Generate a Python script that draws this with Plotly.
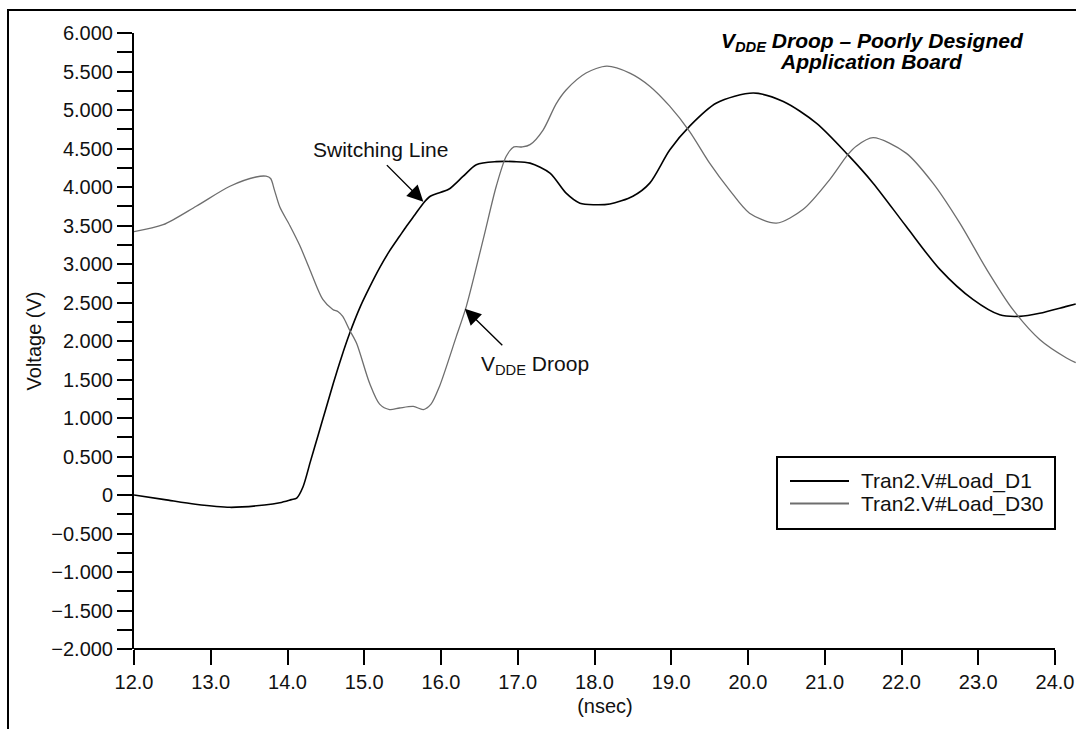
import plotly.graph_objects as go

# Tran2.V#Load_D1 (switching line), time in ns, volts
t_d1 = [12.0, 12.4, 12.8, 13.25, 13.7, 13.9, 14.05, 14.12, 14.2, 14.3, 14.4, 14.5,
        14.6, 14.7, 14.81, 14.95, 15.07, 15.2, 15.33, 15.46, 15.55, 15.66, 15.77,
        15.86, 15.93, 16.1, 16.29, 16.46, 16.72, 16.95, 17.16, 17.42, 17.63, 17.81,
        18.0, 18.2, 18.5, 18.72, 18.98, 19.24, 19.59, 20.07, 20.46, 20.89,
        21.3, 21.63, 22.06, 22.5, 22.93, 23.28, 23.54, 23.8, 24.15, 24.27]
v_d1 = [0.0, -0.06, -0.12, -0.16, -0.13, -0.10, -0.06, -0.04, 0.10, 0.44, 0.78, 1.12,
        1.46, 1.78, 2.10, 2.45, 2.70, 2.95, 3.17, 3.36, 3.49, 3.64, 3.79,
        3.88, 3.91, 3.97, 4.14, 4.29, 4.33, 4.33, 4.31, 4.18, 3.92, 3.79,
        3.77, 3.78, 3.88, 4.05, 4.48, 4.79, 5.09, 5.22, 5.11, 4.83,
        4.42, 4.05, 3.49, 2.93, 2.54, 2.34, 2.32, 2.36, 2.45, 2.48]

# Tran2.V#Load_D30 (VDDE droop)
t_d30 = [12.0, 12.38, 12.81, 13.25, 13.59, 13.72, 13.78, 13.83, 13.9, 14.03, 14.16,
         14.29, 14.46, 14.59, 14.66, 14.72, 14.81, 14.9, 15.07, 15.2, 15.33, 15.46,
         15.64, 15.77, 15.87, 15.98, 16.2, 16.33, 16.55, 16.72, 16.85, 16.95, 17.06,
         17.16, 17.33, 17.5, 17.63, 17.89, 18.16, 18.46, 18.72, 18.98, 19.24, 19.5,
         19.76, 20.02, 20.37, 20.72, 21.06, 21.3, 21.41, 21.63, 22.06, 22.41, 22.76,
         23.11, 23.45, 23.8, 24.15, 24.27]
v_d30 = [3.42, 3.51, 3.75, 4.01, 4.13, 4.14, 4.11, 3.96, 3.74, 3.50, 3.24,
         2.93, 2.54, 2.41, 2.38, 2.32, 2.14, 1.97, 1.45, 1.18, 1.11, 1.13,
         1.15, 1.11, 1.18, 1.41, 2.06, 2.45, 3.32, 4.01, 4.40, 4.52, 4.52,
         4.55, 4.74, 5.08, 5.26, 5.48, 5.57, 5.48, 5.31, 5.05, 4.72, 4.31,
         3.96, 3.66, 3.53, 3.71, 4.09, 4.42, 4.53, 4.64, 4.44, 4.05, 3.53,
         2.93, 2.41, 2.02, 1.78, 1.72]

series_names = ["Tran2.V#Load_D1", "Tran2.V#Load_D30"]
series_colors = ["#000000", "#6e6e6e"]
series_widths = [1.6, 1.3]

y_ticks = [-2.0, -1.5, -1.0, -0.5, 0.0, 0.5, 1.0, 1.5, 2.0, 2.5, 3.0, 3.5, 4.0, 4.5, 5.0, 5.5, 6.0]
y_labels = ["\u22122.000", "\u22121.500", "\u22121.000", "\u22120.500", "0", "0.500", "1.000",
            "1.500", "2.000", "2.500", "3.000", "3.500", "4.000", "4.500", "5.000", "5.500", "6.000"]
x_ticks = [12, 13, 14, 15, 16, 17, 18, 19, 20, 21, 22, 23, 24]
x_labels = [f"{t:.1f}" for t in x_ticks]

W, H = 1076, 729
ML, MR, MT, MB = 134, 0, 33, 80
PW, PH = W - ML - MR, H - MT - MB
FONT = "Liberation Sans, Arial, sans-serif"


def px(x):
    return (x - ML) / PW


def py(y):
    return (H - MB - y) / PH


fig = go.Figure()
for t, v, name, col, lw in zip([t_d1, t_d30], [v_d1, v_d30], series_names, series_colors, series_widths):
    fig.add_trace(go.Scatter(
        x=t, y=v, mode="lines", name=name, showlegend=False,
        line=dict(color=col, width=lw, shape="spline", smoothing=0.8),
    ))

shapes = [
    # outer frame: top and left
    dict(type="line", xref="paper", yref="paper", x0=px(7), x1=px(W), y0=py(10), y1=py(10),
         line=dict(color="black", width=2)),
    dict(type="line", xref="paper", yref="paper", x0=px(8), x1=px(8), y0=py(9), y1=py(H),
         line=dict(color="black", width=2)),
    # x axis line, stops at 24.0
    dict(type="line", xref="x", yref="paper", x0=12, x1=24, y0=0, y1=0,
         line=dict(color="black", width=2)),
    # legend box
    dict(type="rect", xref="paper", yref="paper", x0=px(777), x1=px(1055), y0=py(457), y1=py(529),
         line=dict(color="black", width=2), fillcolor="white"),
]
annotations = []
for i, (name, col) in enumerate(zip(series_names, series_colors)):
    yy = 481 + i * 22.5
    shapes.append(dict(type="line", xref="paper", yref="paper", x0=px(790), x1=px(849),
                       y0=py(yy), y1=py(yy), line=dict(color=col, width=2)))
    annotations.append(dict(xref="paper", yref="paper", x=px(859), y=py(yy), text=name,
                            showarrow=False, xanchor="left", yanchor="middle",
                            font=dict(size=21, color="#111")))

annotations += [
    dict(xref="paper", yref="paper", x=px(1026), y=py(42),
         text="<b><i>V<sub>DDE</sub> Droop \u2013 Poorly Designed</i></b>",
         showarrow=False, xanchor="right", yanchor="middle", font=dict(size=21, color="black")),
    dict(xref="paper", yref="paper", x=px(778), y=py(62),
         text="<b><i>Application Board</i></b>",
         showarrow=False, xanchor="left", yanchor="middle", font=dict(size=21, color="black")),
    # arrows
    dict(x=15.77, y=3.81, ax=-38, ay=-38, text="", showarrow=True, arrowhead=2,
         arrowsize=2.3, arrowwidth=1.4, arrowcolor="black"),
    dict(x=16.31, y=2.42, ax=39, ay=38, text="", showarrow=True, arrowhead=2,
         arrowsize=2.3, arrowwidth=1.4, arrowcolor="black"),
    dict(xref="paper", yref="paper", x=px(450), y=py(149), text="Switching Line",
         showarrow=False, xanchor="right", yanchor="middle", font=dict(size=21, color="#111")),
    dict(xref="paper", yref="paper", x=px(479), y=py(365), text="V<sub>DDE</sub> Droop",
         showarrow=False, xanchor="left", yanchor="middle", font=dict(size=21, color="#111")),
]

fig.update_layout(
    width=W, height=H,
    margin=dict(l=ML, r=MR, t=MT, b=MB, pad=0),
    paper_bgcolor="white", plot_bgcolor="white",
    font=dict(family=FONT, size=20, color="#111"),
    shapes=shapes, annotations=annotations,
    showlegend=False,
    xaxis=dict(
        range=[12, 12 + PW / 76.75], tickmode="array", tickvals=x_ticks, ticktext=x_labels,
        ticks="outside", ticklen=15, tickwidth=2, tickcolor="black",
        showline=False, showgrid=False, zeroline=False,
        title=dict(text="(nsec)", standoff=6, font=dict(size=20)),
    ),
    yaxis=dict(
        range=[-2, 6], tickmode="array", tickvals=y_ticks, ticktext=y_labels,
        ticks="outside", ticklen=15, tickwidth=2, tickcolor="black",
        minor=dict(tickmode="linear", tick0=-2, dtick=0.25, ticks="outside",
                   ticklen=15, tickwidth=2, tickcolor="black"),
        showline=True, linecolor="black", linewidth=2,
        showgrid=False, zeroline=False,
        title=dict(text="Voltage (V)", standoff=4, font=dict(size=20)),
    ),
)

fig.write_html("out.html", config={"displayModeBar": False},
               post_script="document.body.style.margin='0';")
